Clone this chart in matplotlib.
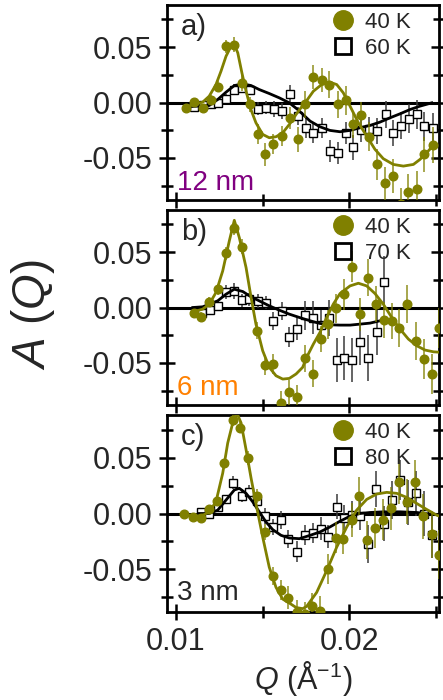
import matplotlib.pyplot as plt
from matplotlib.lines import Line2D
from matplotlib.ticker import MultipleLocator, FixedLocator

plt.rcParams['font.family'] = ['Liberation Sans', 'DejaVu Sans']
plt.rcParams['mathtext.fontset'] = 'custom'
plt.rcParams['mathtext.it'] = 'Liberation Sans:italic'
plt.rcParams['mathtext.rm'] = 'Liberation Sans'

OLIVE = '#808000'
TXT = '#262626'

# ---- panel a) 12 nm : 40 K (circles) and 60 K (squares)
qa_40 = [0.01058, 0.01106, 0.01154, 0.01202, 0.01245, 0.01289, 0.01337, 0.01382, 0.01428, 0.01472, 0.01516,
         0.01562, 0.01611, 0.01659, 0.01703, 0.01747, 0.01794, 0.01842, 0.01886, 0.01935, 0.01981, 0.02025,
         0.02069, 0.02116, 0.02164, 0.02208, 0.02256, 0.02301, 0.02343, 0.02391, 0.02435, 0.02484]
a_40 = [-0.0054, 0.0003, -0.0048, 0.0027, 0.0141, 0.0507, 0.0523, 0.0177, -0.0018, -0.0288, -0.0469,
        -0.0378, -0.0303, -0.0138, -0.0333, -0.0018, 0.0228, 0.0201, 0.0162, -0.0018, 0.0021, -0.0198,
        -0.0117, -0.0309, -0.0559, -0.0730, -0.0664, -0.092, -0.0808, -0.0778, -0.0469, -0.0384]
ea_40 = [0.003, 0.003, 0.003, 0.004, 0.005, 0.006, 0.007, 0.007, 0.007, 0.009, 0.01, 0.009, 0.009, 0.01, 0.011,
         0.012, 0.011, 0.011, 0.012, 0.012, 0.013, 0.012, 0.012, 0.013, 0.014, 0.015, 0.015, 0.015, 0.016,
         0.016, 0.016, 0.016]
qa_60 = [0.01106, 0.01154, 0.01201, 0.01245, 0.01289, 0.01337, 0.01383, 0.01428, 0.01472, 0.01518, 0.01566,
         0.01611, 0.01659, 0.01703, 0.01750, 0.01794, 0.01842, 0.01890, 0.01935, 0.01981, 0.02025, 0.02069,
         0.02117, 0.02164, 0.02212, 0.02256, 0.02301, 0.02347, 0.02391, 0.02435, 0.02484]
a_60 = [-0.0039, -0.0027, -0.0018, -0.0003, 0.0036, 0.0117, 0.0132, 0.0117, -0.0057, -0.0048, -0.0057,
        -0.0078, 0.0078, -0.0123, -0.0228, -0.0279, -0.0231, -0.0438, -0.0459, -0.0273, -0.0405, -0.0246,
        -0.0243, -0.0258, -0.0108, -0.0276, -0.0210, -0.0147, -0.0108, -0.0216, -0.0228]
ea_60 = [0.003, 0.003, 0.003, 0.003, 0.004, 0.005, 0.005, 0.005, 0.006, 0.006, 0.007, 0.007, 0.008, 0.008,
         0.009, 0.009, 0.009, 0.01, 0.01, 0.01, 0.011, 0.011, 0.011, 0.012, 0.012, 0.012, 0.012, 0.013,
         0.013, 0.013, 0.013]
fqa_40 = [0.01058, 0.01106, 0.01154, 0.01192, 0.01231, 0.01260, 0.01289, 0.01318, 0.01337, 0.01357, 0.01381,
          0.01405, 0.01433, 0.01462, 0.01501, 0.01539, 0.01578, 0.01617, 0.01655, 0.01694, 0.01732, 0.01746,
          0.01794, 0.01842, 0.01890, 0.01929, 0.01967, 0.02006, 0.02054, 0.02102, 0.02150, 0.02198, 0.02256,
          0.02314, 0.02372, 0.02410, 0.02449, 0.02484]
fa_40 = [-0.0039, -0.0018, 0.0003, 0.0057, 0.0162, 0.0282, 0.0417, 0.0507, 0.0523, 0.0448, 0.0267, 0.0102,
         -0.0063, -0.0183, -0.0288, -0.0318, -0.0309, -0.0273, -0.0198, -0.0108, -0.0027, -0.0003, 0.0102,
         0.0162, 0.0183, 0.0162, 0.0087, -0.0033, -0.0183, -0.0303, -0.0423, -0.0507, -0.0559, -0.0574,
         -0.0559, -0.0514, -0.0453, -0.0393]
fqa_60 = [0.01058, 0.01192, 0.01241, 0.01289, 0.01337, 0.01386, 0.01434, 0.01481, 0.01539, 0.01597, 0.01655,
          0.01703, 0.01775, 0.01832, 0.01890, 0.01948, 0.02006, 0.02064, 0.02121, 0.02179, 0.02237, 0.02295,
          0.02353, 0.02410, 0.02478]
fa_60 = [-0.0039, -0.0027, 0.0027, 0.0093, 0.0153, 0.0168, 0.0153, 0.0117, 0.0081, 0.0042, -0.0003, -0.0063,
         -0.0168, -0.0219, -0.0252, -0.0264, -0.0252, -0.0228, -0.0207, -0.0177, -0.0138, -0.0102, -0.0063,
         -0.0033, -0.0003]

# ---- panel b) 6 nm : 40 K and 70 K
qb_40 = [0.01106, 0.01145, 0.01192, 0.01241, 0.01287, 0.01337, 0.01381, 0.01466, 0.01514, 0.01561, 0.01607,
         0.01653, 0.01699, 0.01744, 0.01789, 0.01836, 0.01880, 0.01925, 0.01971, 0.02016, 0.02064, 0.02111,
         0.02156, 0.02202, 0.02247, 0.02291, 0.02337, 0.02385, 0.02433, 0.02478, 0.02522]
b_40 = [-0.0054, -0.0084, 0.0054, 0.0165, 0.049, 0.072, 0.055, -0.0208, -0.0517, -0.0508, -0.0865, -0.0766,
        -0.0811, -0.0458, -0.0598, -0.0286, -0.015, -0.0006, 0.012, 0.0369, -0.006, 0.027, 0.003, -0.0114,
        -0.012, -0.0186, 0.003, -0.0301, -0.0466, -0.0601, -0.0186]
eb_40 = [0.003, 0.004, 0.004, 0.005, 0.006, 0.007, 0.007, 0.008, 0.009, 0.009, 0.011, 0.011, 0.011, 0.012,
         0.012, 0.012, 0.013, 0.013, 0.014, 0.014, 0.015, 0.017, 0.016, 0.016, 0.016, 0.017, 0.017, 0.017,
         0.018, 0.018, 0.018]
qb_70 = [0.01149, 0.01197, 0.01245, 0.01289, 0.01335, 0.01380, 0.01424, 0.01472, 0.01518, 0.01562, 0.01611,
         0.01655, 0.01701, 0.01746, 0.01792, 0.01836, 0.01884, 0.01929, 0.01973, 0.02019, 0.02064, 0.02111,
         0.02160, 0.02204]
b_70 = [-0.0054, -0.0024, 0.0015, 0.014, 0.015, 0.0066, 0.0075, 0.006, 0.0045, -0.012, -0.003, -0.027, -0.019,
        -0.0072, -0.0093, -0.016, -0.0093, -0.0472, -0.0457, -0.0472, -0.031, -0.0457, -0.0225, 0.0234]
eb_70 = [0.004, 0.004, 0.004, 0.006, 0.0075, 0.006, 0.006, 0.006, 0.006, 0.008, 0.008, 0.009, 0.01, 0.013,
         0.015, 0.014, 0.016, 0.02, 0.02, 0.02, 0.021, 0.021, 0.02, 0.023]
fqb_40 = [0.01106, 0.01154, 0.01192, 0.01231, 0.01270, 0.01308, 0.01337, 0.01366, 0.01405, 0.01434, 0.01462,
          0.01501, 0.01539, 0.01578, 0.01617, 0.01655, 0.01694, 0.01732, 0.01755, 0.01794, 0.01832, 0.01871,
          0.01909, 0.01948, 0.02006, 0.02054, 0.02102, 0.02150, 0.02198, 0.02247, 0.02295, 0.02343, 0.02391,
          0.02439, 0.02488, 0.02536]
fb_40 = [-0.0036, -0.0015, 0.003, 0.0135, 0.033, 0.060, 0.0787, 0.063, 0.036, 0.009, -0.015, -0.039, -0.054,
         -0.0616, -0.0646, -0.064, -0.060, -0.054, -0.045, -0.033, -0.0225, -0.009, 0.003, 0.0126, 0.0195,
         0.0219, 0.0195, 0.0126, 0.003, -0.009, -0.0195, -0.0285, -0.0345, -0.0384, -0.040, -0.0405]
fqb_70 = [0.01097, 0.01154, 0.01192, 0.01241, 0.01289, 0.01337, 0.01386, 0.01434, 0.01481, 0.01539, 0.01597,
          0.01655, 0.01713, 0.01775, 0.01832, 0.01890, 0.01948, 0.02006, 0.02064, 0.02121, 0.02179, 0.02208]
fb_70 = [0, 0.0006, 0.003, 0.006, 0.012, 0.0165, 0.0144, 0.0096, 0.006, 0.0015, -0.0024, -0.006, -0.009,
         -0.012, -0.0144, -0.0156, -0.0159, -0.0159, -0.015, -0.0141, -0.012, -0.0114]

# ---- panel c) 3 nm : 40 K and 80 K
qc_40 = [0.01048, 0.01097, 0.01143, 0.01191, 0.01235, 0.01279, 0.01328, 0.01370, 0.01418, 0.01466, 0.01514,
         0.01559, 0.01605, 0.01649, 0.01698, 0.01746, 0.01784, 0.01832, 0.01880, 0.01925, 0.01967, 0.02016,
         0.02060, 0.02106, 0.02150, 0.02198, 0.02243, 0.02291, 0.02337, 0.02381, 0.02429, 0.02478, 0.02522]
c_40 = [0, -0.003, -0.0036, 0.0036, 0.0111, 0.045, 0.0834, 0.0766, 0.0496, 0.0156, -0.0166, -0.0562, -0.0685,
        -0.0751, -0.088, -0.09, -0.0826, -0.087, -0.0496, -0.0216, -0.0225, -0.006, 0.0156, -0.024, -0.013,
        -0.0054, 0.0045, 0.0285, 0.0105, 0.0285, -0.0024, -0.0186, -0.0367]
ec_40 = [0.002, 0.002, 0.003, 0.003, 0.004, 0.004, 0.005, 0.005, 0.006, 0.006, 0.007, 0.008, 0.009, 0.01,
         0.011, 0.011, 0.012, 0.013, 0.013, 0.014, 0.014, 0.015, 0.017, 0.017, 0.018, 0.018, 0.019, 0.02, 0.02,
         0.019, 0.02, 0.021, 0.022]
qc_80 = [0.01145, 0.01192, 0.01241, 0.01287, 0.01332, 0.01379, 0.01423, 0.01469, 0.01514, 0.01559, 0.01606,
         0.01650, 0.01698, 0.01744, 0.01790, 0.01836, 0.01880, 0.01929, 0.01973, 0.02019, 0.02064, 0.02111,
         0.02158, 0.02203, 0.02251, 0.02295, 0.02339, 0.02385, 0.02433, 0.02478]
c_80 = [0.0015, 0.0, 0.006, 0.0126, 0.0276, 0.016, 0.0195, 0.0114, -0.002, -0.0123, -0.006, -0.023, -0.034,
        -0.0195, -0.0174, -0.0135, -0.0207, 0.006, -0.0036, -0.0009, -0.002, -0.027, 0.0217, -0.009, 0.0117,
        0.0297, 0.01, 0.018, 0.0, -0.0195]
ec_80 = [0.003, 0.003, 0.003, 0.004, 0.006, 0.006, 0.006, 0.006, 0.007, 0.007, 0.008, 0.008, 0.009, 0.009,
         0.009, 0.01, 0.01, 0.011, 0.011, 0.012, 0.013, 0.017, 0.016, 0.016, 0.017, 0.018, 0.02, 0.02, 0.02, 0.02]
fqc_40 = [0.01048, 0.01097, 0.01145, 0.01192, 0.01231, 0.01270, 0.01299, 0.01328, 0.01351, 0.01376, 0.01405,
          0.01434, 0.01462, 0.01501, 0.01539, 0.01578, 0.01617, 0.01655, 0.01694, 0.01732, 0.01755, 0.01813,
          0.01871, 0.01929, 0.01987, 0.02044, 0.02102, 0.02160, 0.02218, 0.02276, 0.02333, 0.02391, 0.02449,
          0.02507, 0.02545]
fc_40 = [-0.0006, -0.0024, -0.0024, 0.0015, 0.0105, 0.036, 0.063, 0.081, 0.09, 0.081, 0.057, 0.0315, 0.009,
         -0.021, -0.048, -0.066, -0.0765, -0.080, -0.084, -0.085, -0.083, -0.0705, -0.051, -0.03, -0.012, 0.003,
         0.0126, 0.0174, 0.0189, 0.018, 0.0144, 0.009, 0.0036, -0.0015, -0.0036]
fqc_80 = [0.01135, 0.01192, 0.01241, 0.01289, 0.01337, 0.01366, 0.01405, 0.01443, 0.01481, 0.01520, 0.01559,
          0.01607, 0.01655, 0.01713, 0.01775, 0.01832, 0.01890, 0.01948, 0.02006, 0.02064, 0.02121, 0.02198,
          0.02295, 0.02391, 0.02488]
fc_80 = [0, 0, 0.003, 0.012, 0.021, 0.0225, 0.018, 0.0105, 0.0015, -0.0075, -0.0144, -0.0195, -0.0219, -0.0225,
         -0.0195, -0.0165, -0.012, -0.0069, -0.0024, 0, 0.0009, 0.0015, 0.0015, 0.0009, -0.0009]

panels = [
    ('a)', '60 K', '12 nm', '#800080', qa_40, a_40, ea_40, qa_60, a_60, ea_60, fqa_40, fa_40, fqa_60, fa_60),
    ('b)', '70 K', '6 nm', '#ff8000', qb_40, b_40, eb_40, qb_70, b_70, eb_70, fqb_40, fb_40, fqb_70, fb_70),
    ('c)', '80 K', '3 nm', TXT, qc_40, c_40, ec_40, qc_80, c_80, ec_80, fqc_40, fc_40, fqc_80, fc_80),
]

fig = plt.figure(figsize=(4.43, 7.0), dpi=100)
left, width = 167 / 443, 272 / 443
boxes = [(1 - 200 / 700, 195 / 700), (1 - 405 / 700, 195 / 700), (1 - 612 / 700, 197 / 700)]

for i, (lab, hot, size, scol, q1, y1, e1, q2, y2, e2, fq1, fy1, fq2, fy2) in enumerate(panels):
    ax = fig.add_axes([left, boxes[i][0], width, boxes[i][1]])
    ax.axhline(0, color='black', lw=2.2, zorder=1.5)

    ax.errorbar(q2, y2, yerr=e2, fmt='none', ecolor='#3a3a3a', elinewidth=1.1, zorder=2)
    ax.plot(q2, y2, 's', ms=5.5, mfc='white', mec='black', mew=1.0, zorder=2.5)
    ax.plot(fq2, fy2, '-', color='black', lw=2.0, zorder=3)

    ax.errorbar(q1, y1, yerr=e1, fmt='none', ecolor=OLIVE, alpha=0.75, elinewidth=1.3, zorder=3.5)
    ax.plot(q1, y1, 'o', ms=6.2, color=OLIVE, mec=OLIVE, zorder=4)
    ax.plot(fq1, fy1, '-', color=OLIVE, lw=2.0, zorder=4.5)

    ax.set_xlim(0.00948, 0.0252)
    ax.set_ylim(-0.088, 0.088)
    ax.xaxis.set_major_locator(FixedLocator([0.01, 0.02]))
    ax.xaxis.set_minor_locator(FixedLocator([0.015, 0.025]))
    ax.yaxis.set_major_locator(FixedLocator([-0.05, 0.0, 0.05]))
    ax.yaxis.set_minor_locator(FixedLocator([-0.075, -0.025, 0.025, 0.075]))
    ax.yaxis.set_major_formatter(plt.FuncFormatter(lambda v, p: '%.2f' % v if abs(v) > 1e-9 else '0.00'))
    ax.tick_params(which='both', direction='inout', width=1.8, colors='black', labelcolor=TXT,
                   labelsize=22, right=True, top=False)
    ax.tick_params(which='major', length=11, pad=5)
    ax.tick_params(which='minor', length=9)
    for sp in ax.spines.values():
        sp.set_linewidth(2.0)
    if i < 2:
        ax.tick_params(labelbottom=False)
    else:
        ax.xaxis.set_major_formatter(plt.FuncFormatter(lambda v, p: '%.2f' % v))
        ax.set_xlabel(r'$Q$ (Å$^{\mathregular{-1}}$)', fontsize=22, color=TXT, labelpad=2)

    ax.text(0.05, 0.96, lab, transform=ax.transAxes, va='top', ha='left', fontsize=21, color=TXT)
    ax.text(0.035, 0.05 if i < 2 else 0.06, size, transform=ax.transAxes, va='baseline', ha='left',
            fontsize=20, color=scol)

    handles = [Line2D([], [], ls='none', marker='o', ms=14, color=OLIVE),
               Line2D([], [], ls='none', marker='s', ms=12, mfc='white', mec='black', mew=2.0)]
    ax.legend(handles, ['40 K', hot], loc='upper right', bbox_to_anchor=(0.92, 1.0), frameon=False,
              fontsize=16, labelcolor=TXT, handletextpad=0.4, borderaxespad=0.1, borderpad=0.2,
              labelspacing=0.25, handlelength=1.2)

fig.text(0.075, 0.551, r'$A$ ($Q$)', rotation=90, ha='center', va='center', fontsize=33, color=TXT)

fig.savefig('out.png', dpi=100)
